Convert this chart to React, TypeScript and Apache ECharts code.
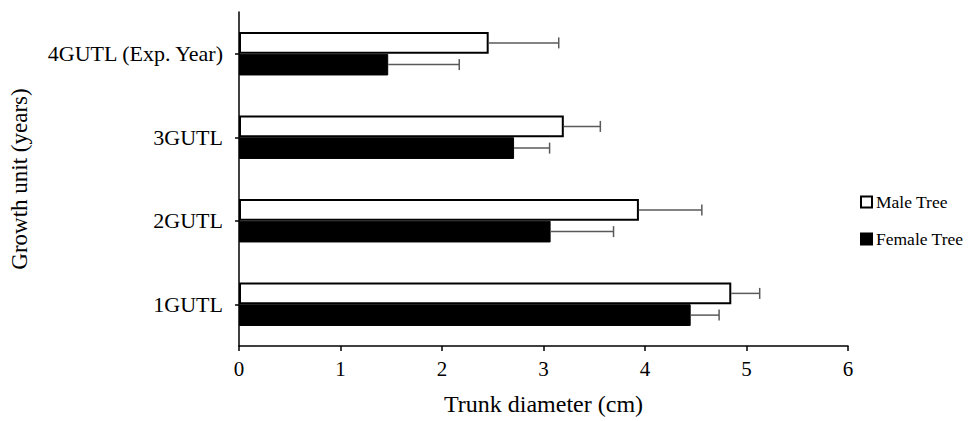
import React, { useEffect, useRef } from "react";
import * as echarts from "echarts";

const categories = ["1GUTL", "2GUTL", "3GUTL", "4GUTL (Exp. Year)"];
const maleValues = [4.85, 3.94, 3.2, 2.46];
const maleErrors = [0.28, 0.62, 0.36, 0.69];
const femaleValues = [4.45, 3.07, 2.71, 1.47];
const femaleErrors = [0.28, 0.62, 0.35, 0.7];
const xTicks = [0, 1, 2, 3, 4, 5, 6];

const FONT = "'Liberation Serif', 'Times New Roman', serif";
const CAT_GAP = 0.48;

export default function App() {
  const ref = useRef<HTMLDivElement>(null);
  useEffect(() => {
    if (!ref.current) return;
    const chart = echarts.init(ref.current, undefined, { renderer: "svg" });

    const errData = (vals: number[], errs: number[], side: number) =>
      vals.map((v, i) => [v, i, errs[i], side]);

    const renderErr = (params: any, api: any) => {
      const v = api.value(0);
      const c = api.value(1);
      const e = api.value(2);
      const s = api.value(3);
      const band = api.size([0, 1])[1];
      const bw = (band * (1 - CAT_GAP)) / 2;
      const p1 = api.coord([v, c]);
      const p2 = api.coord([v + e, c]);
      const y = p1[1] + (s * bw) / 2;
      const style = { stroke: "#5a5a5a", lineWidth: 1.5, fill: null };
      return {
        type: "group",
        children: [
          { type: "line", shape: { x1: p1[0], y1: y, x2: p2[0], y2: y }, style },
          { type: "line", shape: { x1: p2[0], y1: y - 5.5, x2: p2[0], y2: y + 5.5 }, style },
        ],
      };
    };

    chart.setOption({
      animation: false,
      textStyle: { fontFamily: FONT, color: "#000" },
      grid: { left: 238, right: 123, top: 12, bottom: 73, containLabel: false },
      legend: {
        orient: "vertical",
        left: 855,
        top: 188,
        itemWidth: 11,
        itemHeight: 11,
        itemGap: 19,
        icon: "rect",
        textStyle: { fontFamily: FONT, fontSize: 17.5, color: "#000", padding: [0, 0, 0, -1] },
        data: ["Male Tree", "Female Tree"],
      },
      xAxis: {
        type: "value",
        min: xTicks[0],
        max: xTicks[xTicks.length - 1],
        interval: 1,
        name: "Trunk diameter (cm)",
        nameLocation: "middle",
        nameGap: 46,
        nameTextStyle: { fontFamily: FONT, fontSize: 24, color: "#000" },
        axisLine: { show: true, lineStyle: { color: "#000", width: 1.5 } },
        axisTick: { show: true, length: 5, lineStyle: { color: "#000", width: 1.5 } },
        axisLabel: { fontFamily: FONT, fontSize: 21, color: "#000", margin: 12 },
        splitLine: { show: false },
      },
      yAxis: {
        type: "category",
        data: categories,
        name: "Growth unit (years)",
        nameLocation: "middle",
        nameGap: 208,
        nameTextStyle: { fontFamily: FONT, fontSize: 23, color: "#000" },
        axisLine: { show: true, lineStyle: { color: "#000", width: 1.5 } },
        axisTick: { show: true, alignWithLabel: true, length: 4, lineStyle: { color: "#000", width: 1.5 } },
        axisLabel: { fontFamily: FONT, fontSize: 22, color: "#000", margin: 16 },
      },
      series: [
        {
          name: "Male Tree",
          type: "bar",
          data: maleValues,
          barGap: "0%",
          barCategoryGap: CAT_GAP * 100 + "%",
          itemStyle: { color: "#fff", borderColor: "#000", borderWidth: 2 },
        },
        {
          name: "Female Tree",
          type: "bar",
          data: femaleValues,
          barGap: "0%",
          barCategoryGap: CAT_GAP * 100 + "%",
          itemStyle: { color: "#000", borderColor: "#000", borderWidth: 1 },
        },
        {
          type: "custom",
          data: errData(maleValues, maleErrors, -1),
          encode: { x: 0, y: 1 },
          renderItem: renderErr,
          z: 5,
        },
        {
          type: "custom",
          data: errData(femaleValues, femaleErrors, 1),
          encode: { x: 0, y: 1 },
          renderItem: renderErr,
          z: 5,
        },
      ],
    });
    return () => chart.dispose();
  }, []);
  return <div ref={ref} style={{ width: 971, height: 421, position: "absolute", left: 0, top: 0 }} />;
}
